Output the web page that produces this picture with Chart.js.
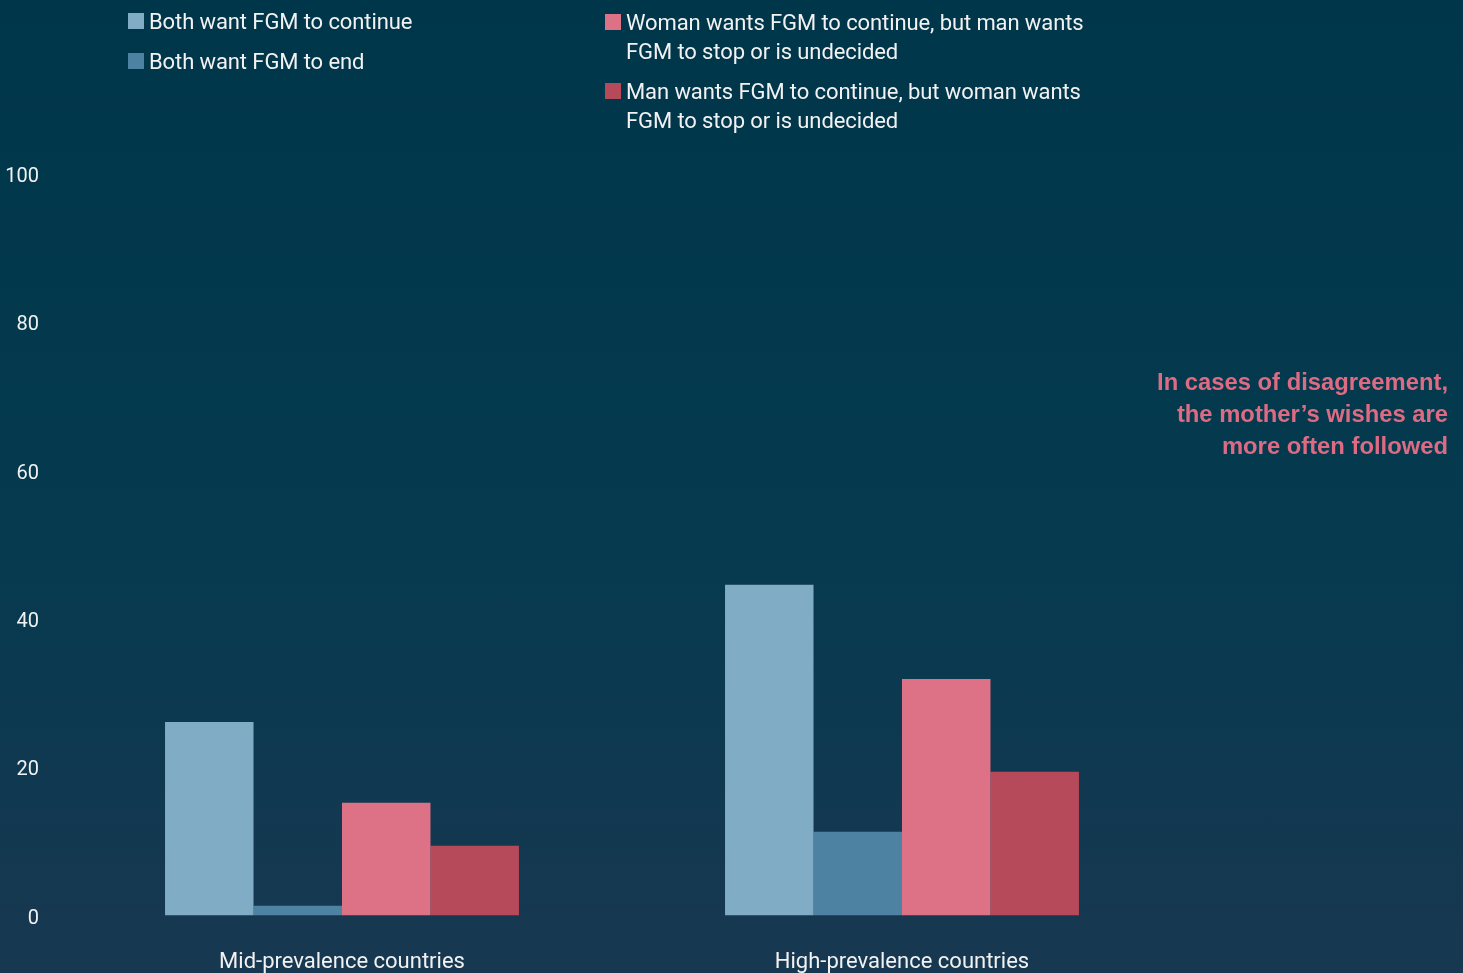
<!DOCTYPE html>
<html>
<head>
<meta charset="utf-8">
<script src="https://cdn.jsdelivr.net/npm/chart.js@4/dist/chart.umd.min.js"></script>
<style>
  html, body { margin: 0; padding: 0; }
  body {
    width: 1463px; height: 973px; overflow: hidden; position: relative;
    background: linear-gradient(to bottom, #00364a 0%, #053a4f 55%, #183851 100%);
    font-family: Roboto, sans-serif;
    color: #f2f2f2;
  }
  #wrap { position: absolute; left: 0; top: 0; width: 1463px; height: 973px; }
  .leg { position: absolute; font-size: 22px; line-height: 29px; letter-spacing: -0.1px; }
  .leg .sw { position: absolute; left: -21px; top: 6px; width: 16px; height: 16px; }
  #note {
    position: absolute; right: 15px; top: 366px; text-align: right;
    font-family: "Liberation Sans", Arial, sans-serif; font-weight: bold;
    font-size: 23.8px; line-height: 32px; color: #dd6b84;
  }
</style>
</head>
<body>
<div id="wrap"><canvas id="c" width="1463" height="973"></canvas></div>
<div id="legend"></div>
<div id="note">In cases of disagreement,<br>the mother’s wishes are<br>more often followed</div>
<script>
// Categories and series (percent of couples)
const categories = ['Mid-prevalence countries', 'High-prevalence countries'];
const seriesNames = [
  'Both want FGM to continue',
  'Both want FGM to end',
  'Woman wants FGM to continue, but man wants\nFGM to stop or is undecided',
  'Man wants FGM to continue, but woman wants\nFGM to stop or is undecided'
];
const bothContinue  = [26.1, 44.6];
const bothEnd       = [1.3, 11.3];
const womanContinue = [15.2, 31.9];
const manContinue   = [9.4, 19.4];
const yTicks = [0, 20, 40, 60, 80, 100];

const colors = ['#80adc5', '#4e82a2', '#dd7186', '#b6495a'];
const values = [bothContinue, bothEnd, womanContinue, manContinue];

// Legend laid out in two columns above the plot
const legendPos = [
  { left: 149, top: 7 },
  { left: 149, top: 47 },
  { left: 626, top: 8 },
  { left: 626, top: 77 }
];
const legendEl = document.getElementById('legend');
seriesNames.forEach((name, i) => {
  const d = document.createElement('div');
  d.className = 'leg';
  d.style.left = legendPos[i].left + 'px';
  d.style.top = legendPos[i].top + 'px';
  const sw = document.createElement('span');
  sw.className = 'sw';
  sw.style.background = colors[i];
  d.appendChild(sw);
  name.split('\n').forEach((line, k) => {
    if (k) d.appendChild(document.createElement('br'));
    d.appendChild(document.createTextNode(line));
  });
  legendEl.appendChild(d);
});

const FONT = 'Roboto, sans-serif';

new Chart(document.getElementById('c'), {
  type: 'bar',
  data: {
    labels: categories,
    datasets: values.map((v, i) => ({
      label: seriesNames[i],
      data: v,
      backgroundColor: colors[i],
      borderWidth: 0,
      categoryPercentage: 0.632,
      barPercentage: 1.0
    }))
  },
  options: {
    responsive: false,
    animation: false,
    layout: { padding: { left: 0, right: 281, top: 174, bottom: 0 } },
    plugins: { legend: { display: false }, tooltip: { enabled: false } },
    scales: {
      x: {
        grid: { display: false, drawTicks: false },
        border: { display: false },
        ticks: { color: '#f2f2f2', font: { family: FONT, size: 22 }, padding: 34 },
        afterFit(scale) { scale.height = 57.5; }
      },
      y: {
        min: 0, max: 100,
        afterBuildTicks(scale) { scale.ticks = yTicks.map(v => ({ value: v })); },
        grid: { display: false, drawTicks: false },
        border: { display: false },
        ticks: { color: '#f2f2f2', font: { family: FONT, size: 20 }, padding: 23, labelOffset: 3 },
        afterFit(scale) { scale.width = 62; }
      }
    }
  }
});
</script>
</body>
</html>
